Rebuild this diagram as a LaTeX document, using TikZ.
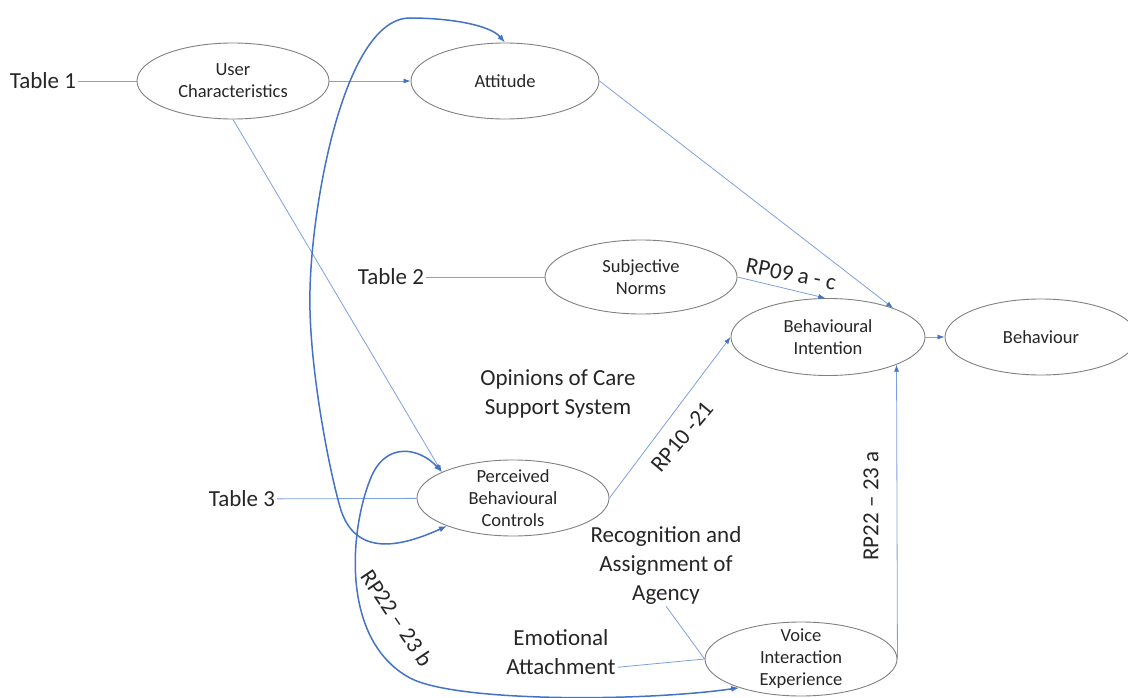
\documentclass[tikz,border=0pt]{standalone}
\usepackage{fontspec}
\setmainfont{Carlito}
\usetikzlibrary{positioning,shapes.geometric,arrows.meta}
\definecolor{ellgray}{RGB}{128,128,128}
\definecolor{thinblue}{RGB}{125,160,222}
\definecolor{thickblue}{RGB}{68,114,196}
\definecolor{txt}{RGB}{38,38,38}

\begin{document}
\begin{tikzpicture}[x=1pt,y=-1pt,on grid,>={Latex[length=8pt,width=6pt]},
	construct/.style={ellipse,draw=ellgray,line width=0.9pt,minimum width=192pt,minimum height=76pt,inner sep=0pt},
	ctext/.style={align=center,text=txt,font=\fontsize{18.5}{22}\selectfont},
	bigtext/.style={align=center,text=txt,font=\fontsize{23}{29}\selectfont,inner sep=2pt},
	link/.style={draw=thinblue,line width=0.8pt},
	linkarrow/.style={link,-{Latex[length=7pt,width=5pt,color=thickblue]}},
	feedback/.style={<->,draw=thickblue,line width=1.5pt}]
		\useasboundingbox (0,0) rectangle (1128,698);
		\node[construct,label={[ctext]center:User\\Characteristics}] (uc) at (233,81) {};
		\node[construct,minimum width=188pt,label={[ctext]center:Attitude}] (att) [right=272pt of uc] {};
		\node[construct,minimum height=74pt,label={[ctext]center:Subjective\\Norms}] (sn) at (641,277) {};
		\node[construct,minimum width=194pt,minimum height=77pt,label={[ctext]center:Behavioural\\Intention}] (bi) at (828,337) {};
		\node[construct,label={[ctext]center:Behaviour}] (beh) [right=213pt of bi] {};
		\node[construct,label={[ctext]center:Perceived\\Behavioural\\Controls}] (pbc) at (513,498) {};
		\node[construct,minimum height=74pt,label={[ctext]center:Voice\\Interaction\\Experience}] (vie) at (801,659) {};
		\node[bigtext] (t1) at (43,81) {Table 1};
		\node[bigtext] (t2) at (391,277) {Table 2};
		\node[bigtext] (t3) at (242,499) {Table 3};
		\node[bigtext] (opinions) at (558,394) {Opinions of Care\\Support System};
		\node[bigtext] (agency) at (666,565) {Recognition and\\Assignment of\\Agency};
		\node[bigtext] (emotional) at (561,652) {Emotional\\Attachment};
		\node[bigtext,rotate=-11] (rp09) at (791,274) {RP09 a - c};
		\node[bigtext,rotate=50] (rp10) at (682,437) {RP10 -21};
		\node[bigtext,rotate=90] (rp22a) at (871,506) {RP22 – 23 a};
		\node[bigtext,rotate=-56] (rp22b) at (397,618) {RP22 – 23 b};
		\draw[link] (t1) -- (uc);
		\draw[linkarrow] (uc) -- (att);
		\draw[linkarrow] (att.east) -- (bi.24);
		\draw[link] (t2) -- (sn);
		\draw[linkarrow] (sn.east) -- (bi.94);
		\draw[linkarrow] (bi) -- (beh);
		\draw[linkarrow] (uc.south) -- (pbc.160);
		\draw[link] (t3) -- (pbc);
		\draw[linkarrow] (pbc.east) -- (bi.west);
		\draw[linkarrow] (vie.east) -- (bi.-22);
		\draw[link] (agency.south) -- (vie.west);
		\draw[link] (emotional.-15) -- (vie.west);
		\draw[feedback] (pbc.203) .. controls (405,545) and (355,560) .. (340,507)
			.. controls (328,465) and (308,360) .. (310,290)
			.. controls (312,200) and (345,18) .. (410,18)
			.. controls (450,18) and (490,25) .. (att.north);
		\draw[feedback] (pbc.160) .. controls (420,448) and (385,440) .. (370,480)
			.. controls (350,530) and (340,640) .. (410,678)
			.. controls (455,702) and (640,702) .. (vie.205);
	\end{tikzpicture}
\end{document}
